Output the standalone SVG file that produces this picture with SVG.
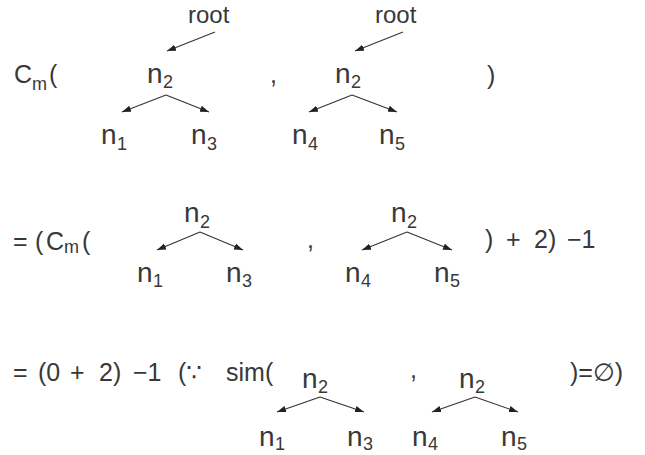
<svg xmlns="http://www.w3.org/2000/svg" width="645" height="455" viewBox="0 0 645 455">
<style>
text{font-family:"Liberation Sans","DejaVu Sans",sans-serif;fill:#383838}
.t{font-size:25px}
.r{font-size:24px}
.n{font-size:28px}
.s{font-size:18px}
.c line{stroke:#333;stroke-width:1.1}
</style>
<defs>
<marker id="ah" markerUnits="userSpaceOnUse" markerWidth="10" markerHeight="8" refX="9" refY="4" orient="auto">
<path d="M0,0.8 L9,4 L0,7.2 Z" fill="#222"/>
</marker>
</defs>
<rect width="645" height="455" fill="#fff"/>

<!-- Row 1 -->
<g id="row1-expr">
<text class="t" x="14" y="83">C</text><text class="s" x="32" y="90">m</text><text class="t" x="49" y="83">(</text>
<text class="t" x="270" y="83">,</text>
<text class="t" x="487" y="84">)</text>
</g>
<g id="r1-root-a"><text class="r" x="188" y="23">root</text></g>
<g id="r1-root-b"><text class="r" x="375" y="23">root</text></g>
<g id="r1-a-n2"><text class="n" x="147" y="83">n</text><text class="s" x="163" y="88">2</text></g>
<g id="r1-a-n1"><text class="n" x="101" y="144">n</text><text class="s" x="117" y="150">1</text></g>
<g id="r1-a-n3"><text class="n" x="191" y="144">n</text><text class="s" x="207" y="150">3</text></g>
<g id="r1-b-n2"><text class="n" x="335" y="83">n</text><text class="s" x="351" y="88">2</text></g>
<g id="r1-b-n4"><text class="n" x="292" y="144">n</text><text class="s" x="308" y="150">4</text></g>
<g id="r1-b-n5"><text class="n" x="379" y="144">n</text><text class="s" x="395" y="150">5</text></g>

<!-- Row 2 -->
<g id="row2-expr">
<text class="t" x="13" y="250">=</text><text class="t" x="35" y="250">(</text><text class="t" x="46" y="250">C</text><text class="s" x="64" y="253">m</text><text class="t" x="82" y="250">(</text>
<text class="t" x="307" y="248">,</text>
<text class="t" x="485" y="248">)</text><text class="t" x="506" y="248">+</text><text class="t" x="534" y="248">2)</text><text class="t" x="567" y="248">−1</text>
</g>
<g id="r2-a-n2"><text class="n" x="184" y="222">n</text><text class="s" x="200" y="228">2</text></g>
<g id="r2-a-n1"><text class="n" x="137" y="282">n</text><text class="s" x="153" y="287">1</text></g>
<g id="r2-a-n3"><text class="n" x="226" y="282">n</text><text class="s" x="242" y="287">3</text></g>
<g id="r2-b-n2"><text class="n" x="391" y="222">n</text><text class="s" x="407" y="228">2</text></g>
<g id="r2-b-n4"><text class="n" x="345" y="282">n</text><text class="s" x="361" y="287">4</text></g>
<g id="r2-b-n5"><text class="n" x="434" y="282">n</text><text class="s" x="450" y="287">5</text></g>

<!-- Row 3 -->
<g id="row3-expr">
<text class="t" x="13" y="381">=</text><text class="t" x="38" y="381">(0</text><text class="t" x="70" y="381">+</text><text class="t" x="99" y="381">2)</text><text class="t" x="133" y="381">−1</text><text class="t" x="178" y="381">(∵</text><text class="t" x="226" y="381">sim(</text>
<text class="t" x="410" y="378">,</text>
<text class="t" x="570" y="381">)=∅)</text>
</g>
<g id="r3-a-n2"><text class="n" x="302" y="388">n</text><text class="s" x="318" y="393">2</text></g>
<g id="r3-a-n1"><text class="n" x="259" y="446">n</text><text class="s" x="275" y="450">1</text></g>
<g id="r3-a-n3"><text class="n" x="347" y="446">n</text><text class="s" x="363" y="450">3</text></g>
<g id="r3-b-n2"><text class="n" x="459" y="388">n</text><text class="s" x="475" y="393">2</text></g>
<g id="r3-b-n4"><text class="n" x="412" y="446">n</text><text class="s" x="428" y="450">4</text></g>
<g id="r3-b-n5"><text class="n" x="501" y="446">n</text><text class="s" x="517" y="450">5</text></g>

<!-- Connectors -->
<g id="connectors" class="c">
<line x1="215" y1="32" x2="167" y2="51" marker-end="url(#ah)"/>
<line x1="403" y1="32" x2="355" y2="51" marker-end="url(#ah)"/>
<line x1="166" y1="95" x2="122" y2="112" marker-end="url(#ah)"/>
<line x1="166" y1="95" x2="209" y2="112" marker-end="url(#ah)"/>
<line x1="352" y1="95" x2="309" y2="112" marker-end="url(#ah)"/>
<line x1="352" y1="95" x2="397" y2="112" marker-end="url(#ah)"/>
<line x1="200" y1="232" x2="157" y2="250" marker-end="url(#ah)"/>
<line x1="200" y1="232" x2="243" y2="250" marker-end="url(#ah)"/>
<line x1="407" y1="232" x2="362" y2="250" marker-end="url(#ah)"/>
<line x1="407" y1="232" x2="452" y2="250" marker-end="url(#ah)"/>
<line x1="320" y1="397" x2="277" y2="412" marker-end="url(#ah)"/>
<line x1="320" y1="397" x2="364" y2="412" marker-end="url(#ah)"/>
<line x1="475" y1="397" x2="432" y2="412" marker-end="url(#ah)"/>
<line x1="475" y1="397" x2="518" y2="412" marker-end="url(#ah)"/>
</g>
</svg>
